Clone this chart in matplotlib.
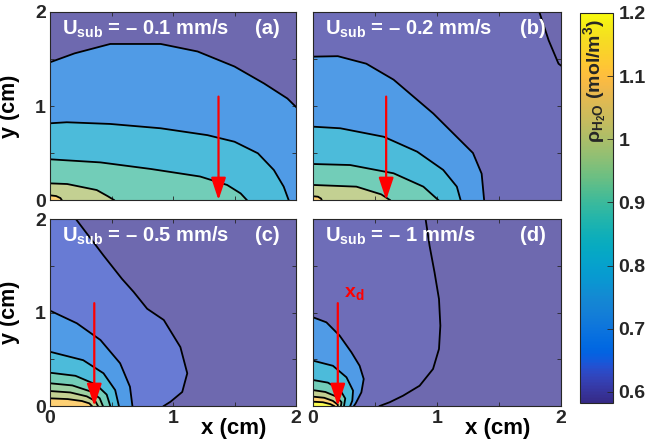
import matplotlib
matplotlib.use("Agg")
import matplotlib.pyplot as plt
import numpy as np
from matplotlib.colors import LinearSegmentedColormap, Normalize
from matplotlib.cm import ScalarMappable

plt.rcParams['font.family'] = ['Liberation Sans', 'DejaVu Sans']
plt.rcParams['font.weight'] = 'bold'
plt.rcParams['mathtext.fontset'] = 'custom'
plt.rcParams['mathtext.rm'] = 'Liberation Sans'
plt.rcParams['mathtext.bf'] = 'Liberation Sans:bold'
plt.rcParams['mathtext.it'] = 'Liberation Sans:italic'

# parula (64 entries)
PARULA = [
    [0.2081, 0.1663, 0.5292], [0.2116, 0.1898, 0.5777], [0.2123, 0.2138, 0.6270], [0.2081, 0.2386, 0.6771],
    [0.1959, 0.2645, 0.7279], [0.1707, 0.2919, 0.7792], [0.1253, 0.3242, 0.8303], [0.0591, 0.3598, 0.8683],
    [0.0117, 0.3875, 0.8820], [0.0060, 0.4086, 0.8828], [0.0165, 0.4266, 0.8786], [0.0329, 0.4430, 0.8720],
    [0.0498, 0.4586, 0.8641], [0.0629, 0.4737, 0.8554], [0.0723, 0.4887, 0.8467], [0.0779, 0.5040, 0.8384],
    [0.0793, 0.5200, 0.8312], [0.0749, 0.5375, 0.8263], [0.0641, 0.5570, 0.8240], [0.0488, 0.5772, 0.8228],
    [0.0343, 0.5966, 0.8199], [0.0265, 0.6137, 0.8135], [0.0239, 0.6287, 0.8038], [0.0231, 0.6418, 0.7913],
    [0.0228, 0.6535, 0.7768], [0.0267, 0.6642, 0.7607], [0.0384, 0.6743, 0.7436], [0.0590, 0.6838, 0.7254],
    [0.0843, 0.6928, 0.7062], [0.1133, 0.7015, 0.6859], [0.1453, 0.7098, 0.6646], [0.1801, 0.7177, 0.6424],
    [0.2178, 0.7250, 0.6193], [0.2586, 0.7317, 0.5954], [0.3022, 0.7376, 0.5712], [0.3482, 0.7424, 0.5473],
    [0.3953, 0.7459, 0.5244], [0.4420, 0.7481, 0.5033], [0.4871, 0.7491, 0.4840], [0.5300, 0.7491, 0.4661],
    [0.5709, 0.7485, 0.4494], [0.6099, 0.7473, 0.4337], [0.6473, 0.7456, 0.4188], [0.6834, 0.7435, 0.4044],
    [0.7184, 0.7411, 0.3905], [0.7525, 0.7384, 0.3768], [0.7858, 0.7356, 0.3633], [0.8185, 0.7327, 0.3498],
    [0.8507, 0.7299, 0.3360], [0.8824, 0.7274, 0.3217], [0.9139, 0.7258, 0.3063], [0.9450, 0.7261, 0.2886],
    [0.9739, 0.7314, 0.2666], [0.9938, 0.7455, 0.2403], [0.9990, 0.7653, 0.2164], [0.9955, 0.7861, 0.1967],
    [0.9880, 0.8066, 0.1794], [0.9789, 0.8271, 0.1633], [0.9697, 0.8481, 0.1475], [0.9626, 0.8705, 0.1309],
    [0.9589, 0.8949, 0.1132], [0.9598, 0.9218, 0.0948], [0.9661, 0.9514, 0.0755], [0.9763, 0.9831, 0.0538],
]
parula = LinearSegmentedColormap.from_list("parula", PARULA)

RHO_MIN = 0.5825
RHO_MAX = 1.2
CB_TICKS = [0.6, 0.7, 0.8, 0.9, 1.0, 1.1, 1.2]
CB_LABELS = ["0.6", "0.7", "0.8", "0.9", "1", "1.1", "1.2"]
BASE_RHO = 0.59
FACE_ALPHA = 0.72

U_SUB = ["– 0.1", "– 0.2", "– 0.5", "– 1"]
PANEL_TAGS = ["(a)", "(b)", "(c)", "(d)"]
X_D = [1.37, 0.59, 0.36, 0.2]   # arrow position x_d (cm)
ARROW_TOP = 1.1

# iso-density lines (level, [(x, y), ...]) in cm
LINES_A = [
    (0.7, [(0, 1.465), (0.2, 1.56), (0.49, 1.66), (0.9, 1.66), (1.2, 1.58), (1.5, 1.42),
           (1.74, 1.24), (1.93, 1.08), (2.0, 0.99)]),
    (0.8, [(0, 0.816), (0.136, 0.827), (0.49, 0.809), (0.9, 0.763), (1.28, 0.69), (1.5, 0.62),
           (1.69, 0.497), (1.82, 0.319), (1.9, 0.142), (1.94, 0)]),
    (0.9, [(0, 0.433), (0.41, 0.40), (0.82, 0.33), (1.22, 0.25), (1.44, 0.16), (1.55, 0.07), (1.6, 0)]),
    (1.0, [(0, 0.177), (0.14, 0.17), (0.38, 0.106), (0.47, 0.04), (0.52, 0)]),
    (1.1, [(0, 0.05), (0.05, 0.042), (0.085, 0.02), (0.095, 0)]),
]
LINES_B = [
    (0.6, [(1.825, 2.0), (1.9, 1.7), (1.98, 1.45), (2.0, 1.43)]),
    (0.7, [(0, 1.525), (0.2, 1.53), (0.43, 1.45), (0.65, 1.28), (0.81, 1.1), (0.97, 0.92),
           (1.13, 0.71), (1.29, 0.5), (1.36, 0.28), (1.38, 0)]),
    (0.8, [(0, 0.78), (0.22, 0.763), (0.57, 0.673), (0.84, 0.514), (1.05, 0.32), (1.16, 0.142), (1.19, 0)]),
    (0.9, [(0, 0.383), (0.3, 0.372), (0.65, 0.284), (0.89, 0.142), (1.01, 0)]),
    (1.0, [(0, 0.16), (0.35, 0.142), (0.55, 0.06), (0.62, 0)]),
    (1.1, [(0, 0.04), (0.04, 0.035), (0.065, 0.015), (0.07, 0)]),
]
LINES_C = [
    (0.63, [(0.21, 2.0), (0.435, 1.61), (0.585, 1.36), (0.68, 1.22), (0.79, 1.04), (0.925, 0.92),
            (1.06, 0.63), (1.116, 0.35), (1.075, 0.15), (0.98, 0.046), (0.925, 0)]),
    (0.7, [(0, 1.02), (0.218, 0.885), (0.41, 0.706), (0.57, 0.457), (0.65, 0.206), (0.67, 0)]),
    (0.8, [(0, 0.58), (0.27, 0.49), (0.435, 0.35), (0.53, 0.17), (0.56, 0)]),
    (0.9, [(0, 0.356), (0.207, 0.323), (0.375, 0.229), (0.461, 0.122), (0.49, 0)]),
    (0.95, [(0, 0.243), (0.182, 0.22), (0.329, 0.156), (0.404, 0.083), (0.43, 0)]),
    (1.0, [(0, 0.16), (0.165, 0.145), (0.299, 0.103), (0.367, 0.055), (0.39, 0)]),
    (1.1, [(0, 0.082), (0.144, 0.074), (0.26, 0.053), (0.32, 0.028), (0.34, 0)]),
]
LINES_D = [
    (0.6, [(0.908, 2.0), (0.94, 1.714), (0.98, 1.43), (1.016, 1.144), (1.027, 0.859), (1.016, 0.61),
           (0.968, 0.396), (0.86, 0.217), (0.726, 0.11), (0.618, 0.04), (0.538, 0)]),
    (0.7, [(0, 0.949), (0.108, 0.895), (0.215, 0.752), (0.31, 0.574), (0.376, 0.43), (0.409, 0.289),
           (0.39, 0.146), (0.345, 0.03), (0.33, 0)]),
    (0.8, [(0, 0.485), (0.161, 0.43), (0.27, 0.307), (0.323, 0.164), (0.317, 0.057), (0.3, 0)]),
    (0.9, [(0, 0.278), (0.12, 0.25), (0.22, 0.17), (0.26, 0.08), (0.25, 0)]),
    (1.0, [(0, 0.17), (0.1, 0.15), (0.19, 0.1), (0.23, 0.04), (0.225, 0)]),
    (1.1, [(0, 0.1), (0.09, 0.088), (0.16, 0.055), (0.2, 0.015), (0.2, 0)]),
    (1.2, [(0, 0.046), (0.08, 0.04), (0.14, 0.02), (0.17, 0)]),
]
PANEL_LINES = [LINES_A, LINES_B, LINES_C, LINES_D]

norm = Normalize(RHO_MIN, RHO_MAX)


def face_color(rho):
    # semi-transparent fill over white, flattened so nested bands don't stack alpha
    c = np.array(parula(norm(rho))[:3])
    return FACE_ALPHA * c + (1 - FACE_ALPHA)


def closed_region(pts):
    # walk the boundary from the end point back to the start through the origin corner
    poly = list(pts)
    xe, ye = pts[-1]
    xs, ys = pts[0]
    if xe >= 2.0 and ye > 0:
        poly.append((2.0, 0.0))
    poly.append((0.0, 0.0))
    if ys >= 2.0 and xs > 0:
        poly.append((0.0, 2.0))
    return np.array(poly)


fig = plt.figure(figsize=(6.47, 4.44), dpi=100)
W, H = 647, 444
boxes = [(50, 12, 246, 188), (313, 12, 248, 188), (50, 219, 246, 187), (313, 219, 248, 187)]
axes = [fig.add_axes([l / W, 1 - (t + h) / H, w / W, h / H]) for l, t, w, h in boxes]
cax = fig.add_axes([580 / W, 1 - 403 / H, 33 / W, 390 / H])

txt_col = "#262626"
for i, ax in enumerate(axes):
    ax.fill([0, 2, 2, 0], [0, 0, 2, 2], color=face_color(BASE_RHO), lw=0)
    for lev, pts in PANEL_LINES[i]:
        poly = closed_region(pts)
        ax.fill(poly[:, 0], poly[:, 1], color=face_color(lev), lw=0)
    for lev, pts in PANEL_LINES[i]:
        p = np.array(pts)
        ax.plot(p[:, 0], p[:, 1], color="black", lw=1.3)

    ax.annotate("", xy=(X_D[i], 0), xytext=(X_D[i], ARROW_TOP),
                arrowprops=dict(arrowstyle="-|>,head_length=0.9,head_width=0.3", color="red",
                                lw=1.6, shrinkA=0, shrinkB=0, mutation_scale=15),
                annotation_clip=False, zorder=5)

    ax.text(0.05, 0.91, r"U$_{\mathbf{sub}}$ = " + U_SUB[i] + " mm/s", transform=ax.transAxes,
            color="white", fontsize=14.5, fontweight="bold", va="center", ha="left")
    ax.text(0.885, 0.91, PANEL_TAGS[i], transform=ax.transAxes, color="white",
            fontsize=14.5, fontweight="bold", va="center", ha="center")

    ax.set_xlim(0, 2)
    ax.set_ylim(0, 2)
    ax.set_xticks([0, 0.5, 1, 1.5, 2])
    ax.set_yticks([0, 0.5, 1, 1.5, 2])
    ax.tick_params(direction="in", top=True, right=True, length=3, width=0.6,
                   labelsize=14, colors=txt_col, pad=3)
    for s in ax.spines.values():
        s.set_linewidth(0.8)
        s.set_color(txt_col)
    if i % 2 == 0:
        ax.set_yticklabels(["0", "", "1", "", "2"])
        ax.set_ylabel("y (cm)", fontsize=15.5, fontweight="bold", color="black")
        ax.yaxis.set_label_coords(-0.122, 0.5)
    else:
        ax.set_yticklabels([])
    if i >= 2:
        ax.set_xticklabels(["0", "", "1", "", "2"])
        ax.set_xlabel("x (cm)", fontsize=16, fontweight="bold", color="black")
        ax.xaxis.set_label_coords(0.745, -0.065)
    else:
        ax.set_xticklabels([])

axes[3].text(0.25, 1.2, r"x$_{\mathbf{d}}$", color="red", fontsize=14, fontweight="bold",
             va="center", ha="left")

sm = ScalarMappable(norm=norm, cmap=parula)
cb = fig.colorbar(sm, cax=cax, ticks=CB_TICKS)
cb.ax.set_yticklabels(CB_LABELS)
cb.outline.set_linewidth(0.8)
cb.outline.set_edgecolor(txt_col)
cax.tick_params(direction="in", length=4, width=0.6, labelsize=14, colors=txt_col, pad=4)
cax.text(0.45, 0.985, r"$\mathrm{\rho}_{\mathbf{H_2O}}$ (mol/m$^{\mathbf{3}}$)", transform=cax.transAxes,
         rotation=90, va="top", ha="center", fontsize=14, fontweight="bold", color=txt_col)

fig.savefig("out.png", dpi=100)
